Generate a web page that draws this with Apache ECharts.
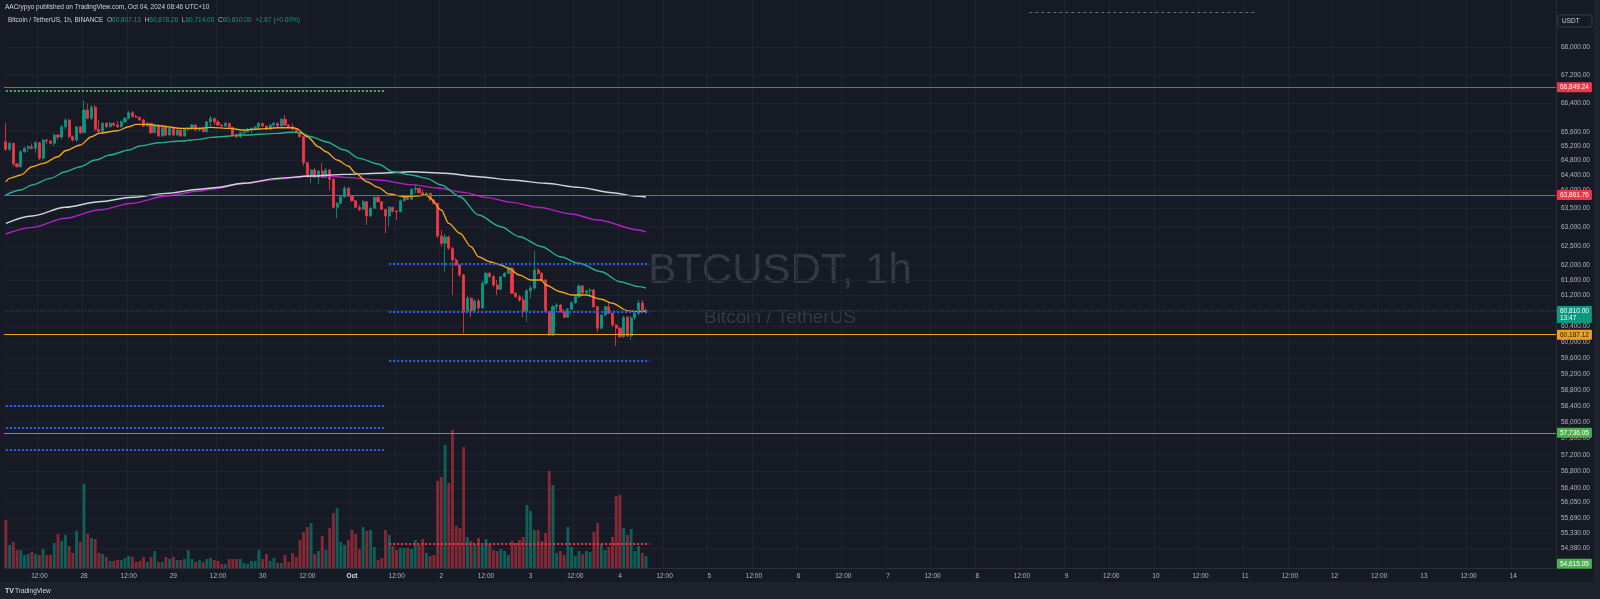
<!DOCTYPE html>
<html>
<head>
<meta charset="utf-8">
<script src="https://cdn.jsdelivr.net/npm/echarts@6/dist/echarts.min.js"></script>
<style>
html,body{margin:0;padding:0;background:#161a25;}
#chart{width:1600px;height:599px;}
</style>
</head>
<body>
<div id="chart"></div>
<script>
// ---- time axis: hourly categories starting Sep 27 03:00 ----
const FIRST_HOUR_UTC = Date.UTC(2024, 8, 27, 3);
const HOURS_ON_AXIS = 417;

// ---- hourly candles BTC/USDT ----
const open = [65322,
65112,65278,64707,64633,65046,65140,65184,65140,65294,64864,
65369,65341,65278,65508,65453,65739,65926,65461,65369,65739,
65572,66207,65974,66283,65666,65600,65834,65739,65834,65786,
65739,65879,65974,66131,66019,66002,65926,65759,65834,65572,
65786,65480,65739,65508,65694,65508,65647,65480,65666,65694,
65786,65647,65694,65600,65879,65974,65870,65786,65759,65834,
65722,65508,65461,65572,65600,65666,65694,65731,65834,65759,
65666,65786,65834,65759,65946,65786,65739,65666,65572,65461,
64743,64360,64543,64344,64516,64344,64543,64289,63530,63638,
63816,64044,63835,63708,63530,63476,63681,63296,63503,63800,
63681,63476,63296,63530,63422,63411,63708,63835,63746,64017,
64044,63925,63862,63908,63727,63638,62761,62568,62735,62435,
62126,61995,61732,60779,61125,60797,61055,60875,61515,61776,
61688,61471,61358,61688,61776,61908,61255,61167,61081,60779,
61322,61392,61863,61776,61601,60779,60181,60908,60952,60779,
60635,60841,61011,61167,61445,61270,61322,61340,60908,60353,
60694,60908,60738,60437,60353,60138,60635,60156,60617,60738,
61003,60807.13];
const close = [
65112,65278,64707,64633,65046,65140,65184,65140,65294,64864,
65369,65341,65278,65508,65453,65739,65926,65461,65369,65739,
65572,66207,65974,66283,65666,65600,65834,65739,65834,65786,
65739,65879,65974,66131,66019,66002,65926,65759,65834,65572,
65786,65480,65739,65508,65694,65508,65647,65480,65666,65694,
65786,65647,65694,65600,65879,65974,65870,65786,65759,65834,
65722,65508,65461,65572,65600,65666,65694,65731,65834,65759,
65666,65786,65834,65759,65946,65786,65739,65666,65572,65461,
64743,64360,64543,64344,64516,64344,64543,64289,63530,63638,
63816,64044,63835,63708,63530,63476,63681,63296,63503,63800,
63681,63476,63296,63530,63422,63411,63708,63835,63746,64017,
64044,63925,63862,63908,63727,63638,62761,62568,62735,62435,
62126,61995,61732,60779,61125,60797,61055,60875,61515,61776,
61688,61471,61358,61688,61776,61908,61255,61167,61081,60779,
61322,61392,61863,61776,61601,60779,60181,60908,60952,60779,
60635,60841,61011,61167,61445,61270,61322,61340,60908,60353,
60694,60908,60738,60437,60353,60138,60635,60156,60617,60738,
61003,60807.13,60810];
const high = [
65842,65322,65294,64735,65093,65184,65231,65278,65350,65314,
65405,65405,65369,65555,65536,65786,65974,65954,65489,65759,
65759,66468,66395,66348,66348,65926,65870,65870,65870,65870,
65898,65912,66011,66179,66179,66067,66019,65954,65870,65842,
65814,65800,65759,65759,65703,65703,65661,65660,65675,65731,
65814,65800,65731,65739,65898,66039,65982,65926,65806,65870,
65842,65731,65564,65591,65619,65703,65717,65759,65870,65842,
65770,65814,65870,65856,65982,66067,65814,65834,65675,65591,
65480,64770,64570,64598,64543,64726,64598,64570,64325,63673,
63862,64107,64080,63862,63727,63592,63727,63700,63538,63835,
63835,63700,63484,63565,63538,63457,63740,63862,63862,64052,
64134,64052,64025,63944,63917,63740,63646,62921,62815,62760,
62470,62179,62021,61758,61185,61159,61107,61107,61575,61811,
61811,61732,61601,61706,61811,61968,61942,61288,61211,61167,
61366,61445,62372,61916,61811,61627,60797,60952,61003,60978,
60849,60875,61055,61211,61497,61471,61340,61392,61366,60926,
60720,60926,61029,60746,60463,60386,60668,60668,60668,60772,
61081,61081,60878.26];
const low = [
65065,65065,64653,64612,64612,65010,65038,65107,65018,64817,
64836,65258,65250,65203,65369,65388,65666,65416,65322,65322,
65536,65564,65946,65926,65628,65572,65564,65703,65717,65745,
65703,65717,65842,65940,65996,65982,65898,65731,65731,65536,
65564,65453,65466,65480,65494,65480,65494,65453,65466,65619,
65647,65619,65619,65591,65591,65703,65786,65759,65731,65731,
65700,65480,65425,65425,65536,65591,65555,65647,65647,65731,
65647,65661,65722,65731,65745,65759,65717,65647,65550,65439,
64653,64325,64180,64325,64161,64325,64311,63998,63511,63235,
63605,63781,63808,63686,63511,63430,63457,63055,63269,63484,
63660,63457,62833,63010,63390,63189,63390,63686,63727,63727,
63917,63903,63835,63822,63700,63605,62708,62478,61818,62390,
61211,61968,61680,60224,60746,60635,60746,60746,60849,61471,
61653,61419,61211,61340,61667,61758,61236,61133,61029,60635,
60521,61133,61340,61732,61549,60746,60156,60156,60772,60758,
60617,60617,60797,60978,61133,61236,61236,61159,60875,60258,
60335,60668,60720,60386,59902,60105,60105,60130,60054,60565,
60694,60772,60714];
// relative hourly volume
const volume = [
48,23,26,18,18,13,14,16,14,13,19,13,13,25,34,27,33,22,15,37,
26,84,34,30,29,15,14,11,7,7,8,8,10,12,11,6,7,11,6,11,
17,6,6,11,9,11,8,8,9,18,9,6,8,6,9,10,8,7,4,4,
9,9,9,9,5,4,7,7,18,9,14,7,10,5,5,13,6,15,11,28,
36,41,45,14,17,32,18,40,55,60,26,23,28,38,34,19,41,37,38,21,
8,10,38,33,22,18,20,20,20,19,28,23,29,15,12,13,87,91,123,85,
138,42,40,121,31,27,24,30,23,29,24,18,17,19,17,13,27,25,28,31,
63,57,38,38,27,35,97,83,15,17,13,41,21,12,17,14,17,16,36,45,
24,18,21,31,72,73,40,33,39,17,22,15,12];

// ---- moving averages: [candle index, value] ----
const maOrange = [[0,64224],[1,64316],[4,64407],[7,64633],[10,64726],[14,64908],[16,65074],[20,65231],[23,65461],[25,65555],[30,65627],[33,65739],[35,65806],[38,65806],[41,65767],[47,65694],[52,65694],[55,65722],[60,65694],[64,65647],[68,65675],[73,65711],[77,65711],[78,65694],[81,65461],[84,65184],[86,65046],[89,64817],[92,64653],[94,64453],[97,64224],[100,64071],[103,63890],[107,63817],[110,63836],[113,63863],[114,63773],[117,63457],[119,63100],[122,62833],[125,62477],[127,62213],[130,62081],[133,61995],[135,61908],[138,61732],[141,61601],[144,61601],[145,61471],[149,61296],[152,61210],[156,61210],[160,61099],[163,60996],[167,60805],[170,60780],[172,60797]];
const maGreen = [[0,63863],[4,63998],[7,64134],[12,64316],[16,64497],[20,64633],[24,64817],[28,64955],[33,65093],[36,65203],[41,65294],[47,65341],[52,65388],[55,65444],[64,65508],[73,65555],[77,65592],[79,65572],[82,65461],[86,65322],[91,65093],[95,64864],[100,64708],[104,64497],[109,64407],[113,64316],[117,64134],[122,63817],[127,63323],[133,63010],[138,62743],[144,62477],[149,62213],[154,62039],[160,61818],[165,61557],[170,61427],[172,61393]];
const maWhite = [[0,63100],[7,63296],[16,63530],[25,63681],[34,63800],[43,63908],[52,64017],[56,64061],[64,64180],[73,64316],[82,64379],[91,64425],[100,64453],[109,64497],[118,64453],[127,64360],[136,64270],[145,64180],[154,64071],[163,63925],[169,63836],[172,63809]];
const maPurple = [[0,62815],[7,62993],[16,63235],[25,63457],[34,63638],[43,63836],[52,63971],[56,64034],[64,64180],[73,64289],[81,64379],[86,64388],[91,64343],[100,64270],[109,64144],[116,64053],[123,63934],[129,63799],[136,63664],[143,63530],[152,63350],[159,63189],[170,62921],[172,62868]];

// ---- price scale ticks & drawn levels ----
const priceTicks = [68000,67200,66400,65600,65200,64800,64400,64000,63500,63000,62500,62000,61600,61200,60800,60400,60000,59600,59200,58800,58400,58000,57600,57200,56800,56400,56050,55690,55330,54980];
const priceRange = [54517, 69370];
const tagLevels = [66849.24, 63861.76, 60187.12, 57736.05, 54615.05];
const lastPrice = 60810;
const countdown = '13:47';
const topLevel = 69012;          // dashed, from index 275 to 336
const greenDotLevel = 66742;     // dotted, index 0..102
const blueDotRight = [62038, 60776, 59536]; // index 103..173
const blueDotLeft = [58393, 57867, 57330];  // index 0..102
const redDotLevel = 55071;       // index 103..173

const FONT = '"Liberation Sans", Arial, sans-serif';
const fmt = v => Number(v).toLocaleString('en-US', {minimumFractionDigits: 2, maximumFractionDigits: 2});

const cats = [];
for (let i = 0; i < HOURS_ON_AXIS; i++) {
  const d = new Date(FIRST_HOUR_UTC + i * 3600000);
  cats.push(d.toISOString().slice(0, 13));
}
function hourOf(i) { return new Date(FIRST_HOUR_UTC + i * 3600000).getUTCHours(); }
function timeLabel(i) {
  const d = new Date(FIRST_HOUR_UTC + i * 3600000);
  const h = d.getUTCHours();
  if (h === 12) return '12:00';
  if (h === 0) return d.getUTCDate() === 1 ? '{b|Oct}' : String(d.getUTCDate());
  return '';
}
const showTick = (i) => { const h = hourOf(i); return h === 0 || h === 12; };

const candles = close.map((c, i) => [open[i], c, low[i], high[i]]);
const UP = '#089981', DOWN = '#f23645';
const volData = volume.map((v, i) => ({
  value: v,
  itemStyle: {color: close[i] >= open[i] ? 'rgba(8,153,129,0.55)' : 'rgba(242,54,69,0.5)'}
}));

function tag(bg, fg, text) {
  return {show: true, position: 'end', distance: 1, formatter: text, backgroundColor: bg, color: fg,
    fontSize: 6.5, fontFamily: FONT, padding: [2, 3, 1, 3], borderRadius: 1, lineHeight: 7};
}
const markLines = [
  {yAxis: tagLevels[0], lineStyle: {color: '#f23645', width: 1, type: 'solid'}, label: tag('#f23645', '#ffffff', fmt(tagLevels[0]))},
  {yAxis: tagLevels[1], lineStyle: {color: '#e53a55', width: 1, type: 'solid', opacity: 1}, label: tag('#f23645', '#ffffff', fmt(tagLevels[1]))},
  {yAxis: tagLevels[2], lineStyle: {color: '#f0a01c', width: 1, type: 'solid'}, label: tag('#f0a01c', '#1a1a1a', fmt(tagLevels[2]))},
  {yAxis: tagLevels[3], lineStyle: {color: '#4caf50', width: 1, type: 'solid'}, label: tag('#4caf50', '#ffffff', fmt(tagLevels[3]))},
  {yAxis: tagLevels[4], lineStyle: {color: 'rgba(0,0,0,0)', width: 1, type: 'solid'}, label: tag('#4caf50', '#ffffff', fmt(tagLevels[4]))},
  {yAxis: lastPrice, lineStyle: {color: '#3a3e4a', width: 1, type: [1, 2]}, label: Object.assign(tag(UP, '#ffffff', fmt(lastPrice) + '\n' + countdown), {offset: [0, 4]})},
  [{coord: [275, topLevel], lineStyle: {color: '#6a6d78', width: 1, type: [3, 3]}, label: {show: false}}, {coord: [336, topLevel]}],
  [{coord: [0, greenDotLevel], lineStyle: {color: '#4caf50', width: 2, type: [2, 2]}, label: {show: false}}, {coord: [102, greenDotLevel]}]
];
blueDotRight.forEach(v => markLines.push([{coord: [103, v], lineStyle: {color: '#2962ff', width: 2, type: [2, 2]}, label: {show: false}}, {coord: [173, v]}]));
blueDotLeft.forEach(v => markLines.push([{coord: [0, v], lineStyle: {color: '#2962ff', width: 2, type: [2, 2]}, label: {show: false}}, {coord: [102, v]}]));
markLines.push([{coord: [103, redDotLevel], lineStyle: {color: '#f23645', width: 2, type: [2, 2]}, label: {show: false}}, {coord: [173, redDotLevel]}]);

function maSeries(name, data, color) {
  return {name, type: 'line', xAxisIndex: 0, yAxisIndex: 0, data, showSymbol: false, smooth: 0.3,
    smoothMonotone: 'x', lineStyle: {color, width: 1.4}, z: 4, silent: true};
}

const chart = echarts.init(document.getElementById('chart'));
chart.setOption({
  animation: false,
  backgroundColor: '#161a25',
  textStyle: {fontFamily: FONT},
  grid: [
    {left: 4, right: 44, top: 0, bottom: 31, containLabel: false, outerBoundsMode: 'none'},
    {left: 4, right: 44, top: 0, bottom: 31, containLabel: false, outerBoundsMode: 'none'}
  ],
  xAxis: [
    {type: 'category', gridIndex: 0, data: cats, boundaryGap: true,
      axisLine: {show: true, lineStyle: {color: '#2a2e39'}}, axisTick: {show: false},
      axisLabel: {interval: (i) => showTick(i), formatter: (v, i) => timeLabel(i), color: '#b2b5be',
        fontSize: 6.5, fontFamily: FONT, margin: 5, rich: {b: {color: '#e0e3eb', fontWeight: 'bold', fontSize: 6.5}}},
      splitLine: {show: true, interval: (i) => showTick(i), lineStyle: {color: '#1f2330', width: 1}}},
    {type: 'category', gridIndex: 1, data: cats, boundaryGap: true, show: false}
  ],
  yAxis: [
    {type: 'log', logBase: 10, gridIndex: 0, position: 'right', min: priceRange[0], max: priceRange[1],
      axisLine: {show: true, lineStyle: {color: '#2a2e39'}},
      axisTick: {show: false, customValues: priceTicks},
      axisLabel: {customValues: priceTicks, formatter: v => fmt(v), color: '#b2b5be', fontSize: 6.5, fontFamily: FONT, margin: 5},
      splitLine: {show: true, lineStyle: {color: '#1f2330', width: 1}}},
    {type: 'value', gridIndex: 1, min: 0, max: 568, show: false, splitLine: {show: false}}
  ],
  graphic: [
    {type: 'rect', shape: {x: 0, y: 582, width: 1600, height: 17}, style: {fill: '#1e222d'}, z: 0},
    {type: 'rect', shape: {x: 1594, y: 0, width: 6, height: 599}, style: {fill: '#1e222d'}, z: 0},
    {type: 'text', x: 780, y: 271, z: 0, style: {text: 'BTCUSDT, 1h', fill: '#353944', font: '42px ' + FONT, align: 'center', verticalAlign: 'middle'}},
    {type: 'text', x: 780, y: 318, z: 0, style: {text: 'Bitcoin / TetherUS', fill: '#353944', font: '19px ' + FONT, align: 'center', verticalAlign: 'middle'}},
    {type: 'text', x: 5, y: 7, z: 10, style: {text: 'AACrypyo published on TradingView.com, Oct 04, 2024 08:46 UTC+10', fill: '#d1d4dc', font: '6.5px ' + FONT, verticalAlign: 'middle'}},
    {type: 'text', x: 8, y: 20, z: 10, style: {
      text: '{n|Bitcoin / TetherUS, 1h, BINANCE}  {k|O}{v|60,807.13}  {k|H}{v|60,878.26}  {k|L}{v|60,714.00}  {k|C}{v|60,810.00}  {v|+2.87 (+0.00%)}',
      verticalAlign: 'middle', font: '6.5px ' + FONT,
      rich: {n: {fill: '#d1d4dc', fontSize: 6.5}, k: {fill: '#b2b5be', fontSize: 6.5}, v: {fill: '#089981', fontSize: 6.5}}}},
    {type: 'rect', z: 10, shape: {x: 1558, y: 15, width: 34, height: 12, r: 2}, style: {fill: '#161a25', stroke: '#363a45', lineWidth: 1}},
    {type: 'text', z: 11, x: 1562, y: 21, style: {text: 'USDT', fill: '#d1d4dc', font: '6.5px ' + FONT, verticalAlign: 'middle'}},
    {type: 'text', z: 11, x: 5, y: 591, style: {text: 'TV', fill: '#d1d4dc', font: 'bold 7px ' + FONT, verticalAlign: 'middle'}},
    {type: 'text', z: 11, x: 15, y: 591, style: {text: 'TradingView', fill: '#d1d4dc', font: '6.5px ' + FONT, verticalAlign: 'middle'}}
  ],
  series: [
    {name: 'Volume', type: 'bar', xAxisIndex: 1, yAxisIndex: 1, data: volData, barCategoryGap: '22%', z: 1, silent: true},
    {name: 'BTCUSDT', type: 'candlestick', xAxisIndex: 0, yAxisIndex: 0, data: candles, barWidth: 2.6, z: 3,
      itemStyle: {color: UP, color0: DOWN, borderColor: UP, borderColor0: DOWN, borderWidth: 0.8},
      markLine: {silent: true, symbol: ['none', 'none'], data: markLines, z: 5}},
    maSeries('MA purple', maPurple, '#b420c8'),
    maSeries('MA white', maWhite, '#d1d4dc'),
    maSeries('MA green', maGreen, '#22b08a'),
    maSeries('MA orange', maOrange, '#f0a51a')
  ]
});
</script>
</body>
</html>
